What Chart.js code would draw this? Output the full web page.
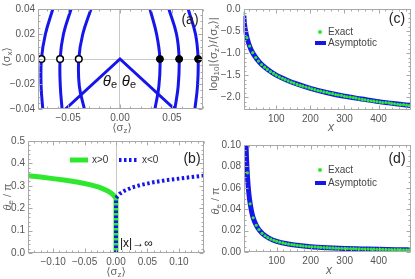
<!DOCTYPE html>
<html>
<head>
<meta charset="utf-8">
<script src="https://cdn.jsdelivr.net/npm/chart.js@4.4.1/dist/chart.umd.min.js"></script>
<style>
  html, body { margin: 0; padding: 0; background: #fff; }
  #wrap { position: relative; width: 415px; height: 279px; overflow: hidden; }
  #wrap canvas { position: absolute; left: 0; top: 0; }
</style>
</head>
<body>
<div id="wrap">
  <canvas id="panelA" width="415" height="279"></canvas>
  <canvas id="panelB" width="415" height="279"></canvas>
  <canvas id="panelC" width="415" height="279"></canvas>
  <canvas id="panelD" width="415" height="279"></canvas>
</div>
<script>
// (a) arcs in the <sz>,<sx> plane, read at these <sx> levels
const arcLevels     = [0.04, 0.0198, 0, -0.0216, -0.04];
const arcLeftOuter  = [-0.0647, -0.0719, -0.0757, -0.0760, -0.0744];
const arcLeftMid    = [-0.0471, -0.0545, -0.0577, -0.0575, -0.0558];
const arcLeftInner  = [-0.0279, -0.0359, -0.0397, -0.0392, -0.0343];
const arcRightInner = [0.0289, 0.0353, 0.0385, 0.0375, 0.0337];
const arcRightMid   = [0.0471, 0.0545, 0.0570, 0.0561, 0.0529];
const arcRightOuter = [0.0657, 0.0728, 0.0753, 0.0747, 0.0722];
const openDots   = [-0.0757, -0.0577, -0.0397];
const filledDots = [0.0385, 0.0570, 0.0753];
const wedgeZ = [-0.0525, 0, 0.0525];
const wedgeX = [-0.04, 0, -0.04];

// (b) theta_e / pi against <sz>
const greenZ     = [-0.14, -0.12, -0.10, -0.08, -0.06, -0.04, -0.026, -0.013, -0.006, -0.002, 0, 0];
const greenTheta = [0.345, 0.339, 0.332, 0.325, 0.316, 0.304, 0.293, 0.277, 0.264, 0.252, 0.243, 0];
const blueZ      = [0, 0, 0.002, 0.006, 0.013, 0.026, 0.04, 0.06, 0.08, 0.10, 0.12, 0.14];
const blueTheta  = [0, 0.243, 0.252, 0.264, 0.277, 0.293, 0.304, 0.316, 0.325, 0.332, 0.339, 0.345];

// (c), (d) exact points and asymptotic curves against x
const xExact = [5, 14, 22, 31, 40, 48, 57, 66, 74, 83, 92, 100, 109, 118, 126, 135, 144, 152, 161, 170,
  178, 187, 196, 204, 213, 222, 230, 239, 248, 256, 265, 274, 282, 291, 300, 308, 317, 326, 334, 343,
  352, 360, 369, 378, 386, 395, 404, 412, 421, 430, 438, 447, 456, 464, 473, 482, 490];
const cExact = [-0.10, -0.65, -0.84, -0.99, -1.10, -1.18, -1.26, -1.32, -1.37, -1.42, -1.46, -1.50,
  -1.54, -1.57, -1.60, -1.63, -1.66, -1.68, -1.71, -1.73, -1.75, -1.77, -1.79, -1.81, -1.83, -1.85,
  -1.86, -1.88, -1.89, -1.91, -1.92, -1.94, -1.95, -1.96, -1.98, -1.99, -2.00, -2.01, -2.02, -2.04,
  -2.05, -2.06, -2.07, -2.08, -2.09, -2.10, -2.11, -2.12, -2.12, -2.13, -2.14, -2.15, -2.16, -2.17,
  -2.17, -2.18, -2.19];
const dExact = [0.15, 0.074, 0.045, 0.032, 0.025, 0.021, 0.0175, 0.0152, 0.0135, 0.0120, 0.0109,
  0.0100, 0.0092, 0.0085, 0.0079, 0.0074, 0.0069, 0.0066, 0.0062, 0.0059, 0.0056, 0.0053, 0.0051,
  0.0049, 0.0047, 0.0045, 0.0043, 0.0042, 0.0040, 0.0039, 0.0038, 0.0036, 0.0035, 0.0034, 0.0033,
  0.0032, 0.0032, 0.0031, 0.0030, 0.0029, 0.0028, 0.0028, 0.0027, 0.0026, 0.0026, 0.0025, 0.0025,
  0.0024, 0.0024, 0.0023, 0.0023, 0.0022, 0.0022, 0.0022, 0.0021, 0.0021, 0.0020];
const xAsym = [5, 7, 10, 13, 16, 20, 25, 30, 40, 50, 60, 80, 100, 130, 160, 200, 250, 300, 350, 400, 450, 495];
const cAsym = [-0.15, -0.35, -0.50, -0.61, -0.70, -0.80, -0.90, -0.98, -1.10, -1.20, -1.28, -1.40,
  -1.50, -1.61, -1.70, -1.80, -1.90, -1.98, -2.04, -2.10, -2.15, -2.19];
const dAsym = [0.20, 0.143, 0.100, 0.077, 0.0625, 0.050, 0.040, 0.033, 0.025, 0.020, 0.0167, 0.0125,
  0.0100, 0.0077, 0.0063, 0.0050, 0.0040, 0.0033, 0.0029, 0.0025, 0.0022, 0.0020];

// tick values
const aTicksX = [-0.05, 0, 0.05];
const aTicksY = [-0.04, -0.02, 0, 0.02, 0.04];
const bTicksX = [-0.10, -0.05, 0, 0.05, 0.10];
const bTicksY = [0, 0.1, 0.2, 0.3, 0.4, 0.5];
const cdTicksX = [100, 200, 300, 400];
const cTicksY = [-2.0, -1.5, -1.0, -0.5, 0];
const dTicksY = [0, 0.02, 0.04, 0.06, 0.08, 0.10];

const BLUE = 'rgb(22,22,235)';
const GREEN = 'rgb(45,232,45)';
const FRAME = '#a8a8a8';
const FONT = "'Liberation Sans', 'DejaVu Sans', sans-serif";

const zip = (xs, ys) => xs.map((x, i) => ({ x: x, y: ys[i] }));
const fmt = (v, d) => (v < -1e-12 ? '\u2212' : '') + Math.abs(v).toFixed(d);

function axis(pos, min, max, ticks, digits, size, zeroLine) {
  return {
    type: 'linear', position: pos, min: min, max: max,
    afterBuildTicks: s => { s.ticks = ticks.map(v => ({ value: v })); },
    afterFit: s => { if (pos === 'left') s.width = size; else s.height = size; },
    ticks: {
      color: '#555', padding: 3, autoSkip: false, maxRotation: 0,
      font: { family: FONT, size: 10 },
      callback: v => fmt(v, digits)
    },
    grid: {
      drawTicks: false,
      color: c => (zeroLine && c.tick && Math.abs(c.tick.value) < 1e-9) ? '#c8c8c8' : 'rgba(0,0,0,0)'
    },
    border: { display: false }
  };
}

function opts(padding, x, y) {
  return {
    responsive: false, animation: false, events: [],
    layout: { padding: padding },
    plugins: { legend: { display: false }, tooltip: { enabled: false } },
    scales: { x: x, y: y }
  };
}

// text made of pieces: [text, size, dy, italic]
function rich(ctx, parts, x, y, o) {
  o = o || {};
  ctx.save();
  ctx.translate(x, y);
  if (o.rotate) ctx.rotate(o.rotate);
  ctx.fillStyle = o.color || '#666';
  ctx.textBaseline = 'middle';
  ctx.textAlign = 'left';
  const fonts = parts.map(p => (p[3] ? 'italic ' : '') + p[1] + 'px ' + FONT);
  let w = 0;
  parts.forEach((p, i) => { ctx.font = fonts[i]; w += ctx.measureText(p[0]).width; });
  let cx = o.align === 'left' ? 0 : -w / 2;
  parts.forEach((p, i) => {
    ctx.font = fonts[i];
    ctx.fillText(p[0], cx, p[2] || 0);
    cx += ctx.measureText(p[0]).width;
  });
  ctx.restore();
}

function tickList(ticks, n, min, max) {
  const sub = (ticks[1] - ticks[0]) / n, out = [];
  const k0 = Math.floor((min - ticks[0]) / sub) - 1, k1 = Math.ceil((max - ticks[0]) / sub) + 1;
  for (let k = k0; k <= k1; k++) {
    const v = ticks[0] + k * sub;
    if (v >= min - 1e-9 && v <= max + 1e-9) out.push({ v: v, major: ((k % n) + n) % n === 0 });
  }
  return out;
}

// frame, inward ticks and the extra text of each panel
function decor(xTicks, xn, yTicks, yn, draw) {
  return {
    id: 'decor',
    afterDraw(chart) {
      const ctx = chart.ctx, a = chart.chartArea, sx = chart.scales.x, sy = chart.scales.y;
      const L = Math.round(a.left) + 0.5, R = Math.round(a.right) - 0.5;
      const T = Math.round(a.top) + 0.5, B = Math.round(a.bottom) - 0.5;
      ctx.save();
      ctx.strokeStyle = FRAME;
      ctx.lineWidth = 1;
      ctx.strokeRect(L, T, R - L, B - T);
      ctx.beginPath();
      tickList(xTicks, xn, sx.min, sx.max).forEach(t => {
        const p = Math.round(sx.getPixelForValue(t.v)) + 0.5, len = t.major ? 4 : 2;
        ctx.moveTo(p, B); ctx.lineTo(p, B - len);
        ctx.moveTo(p, T); ctx.lineTo(p, T + len);
      });
      tickList(yTicks, yn, sy.min, sy.max).forEach(t => {
        const p = Math.round(sy.getPixelForValue(t.v)) + 0.5, len = t.major ? 4 : 2;
        ctx.moveTo(L, p); ctx.lineTo(L + len, p);
        ctx.moveTo(R, p); ctx.lineTo(R - len, p);
      });
      ctx.stroke();
      ctx.restore();
      draw(ctx);
    }
  };
}

function legendLine(ctx, x0, x1, y, color, width, dash) {
  ctx.save();
  ctx.strokeStyle = color;
  ctx.lineWidth = width;
  if (dash) ctx.setLineDash(dash);
  ctx.beginPath(); ctx.moveTo(x0, y); ctx.lineTo(x1, y); ctx.stroke();
  ctx.restore();
}
function legendDot(ctx, x, y, color) {
  ctx.save();
  ctx.fillStyle = color;
  ctx.beginPath(); ctx.arc(x, y, 2, 0, Math.PI * 2); ctx.fill();
  ctx.restore();
}

const arcStyle = { showLine: true, borderColor: BLUE, borderWidth: 3, pointRadius: 0, tension: 0.4 };

// ---- (a) ----
new Chart(document.getElementById('panelA'), {
  type: 'scatter',
  data: {
    datasets: [
      { data: openDots.map(z => ({ x: z, y: 0 })), pointRadius: 3.3, borderWidth: 1.5,
        borderColor: '#000', backgroundColor: '#fff' },
      { data: filledDots.map(z => ({ x: z, y: 0 })), pointRadius: 3.5, borderWidth: 1,
        borderColor: '#000', backgroundColor: '#000' },
      Object.assign({ data: zip(wedgeZ, wedgeX) }, arcStyle, { tension: 0 }),
      Object.assign({ data: zip(arcLeftOuter, arcLevels) }, arcStyle),
      Object.assign({ data: zip(arcLeftMid, arcLevels) }, arcStyle),
      Object.assign({ data: zip(arcLeftInner, arcLevels) }, arcStyle),
      Object.assign({ data: zip(arcRightInner, arcLevels) }, arcStyle),
      Object.assign({ data: zip(arcRightMid, arcLevels) }, arcStyle),
      Object.assign({ data: zip(arcRightOuter, arcLevels) }, arcStyle)
    ]
  },
  options: opts({ left: 0, top: 6, right: 212, bottom: 142 },
    axis('bottom', -0.079, 0.08, aTicksX, 2, 28, true),
    axis('left', -0.04, 0.04, aTicksY, 2, 38, true)),
  plugins: [decor(aTicksX, 5, aTicksY, 4, ctx => {
    rich(ctx, [['(a)', 14]], 190, 20, { color: '#222' });
    rich(ctx, [['\u03B8', 15, 0, true], ['e', 11, 3]], 110, 82, { color: '#111' });
    rich(ctx, [['\u03B8', 15, 0, true], ['e', 11, 3]], 129, 82, { color: '#111' });
    rich(ctx, [['\u27E8\u03C3', 11], ['z', 8, 3], ['\u27E9', 11]], 122, 128);
    rich(ctx, [['\u27E8\u03C3', 11], ['x', 8, 3], ['\u27E9', 11]], 7, 57, { rotate: -Math.PI / 2 });
  })]
});

// ---- (b) ----
new Chart(document.getElementById('panelB'), {
  type: 'scatter',
  data: {
    datasets: [
      { data: zip(blueZ, blueTheta), showLine: true, borderColor: BLUE, borderWidth: 4,
        borderDash: [2.5, 2.5], pointRadius: 0, tension: 0 },
      { data: zip(greenZ, greenTheta), showLine: true, borderColor: GREEN, borderWidth: 5,
        pointRadius: 0, tension: 0 }
    ]
  },
  options: opts({ left: 0, top: 141, right: 211, bottom: 6 },
    axis('bottom', -0.14, 0.14, bTicksX, 2, 20, true),
    axis('left', 0, 0.5, bTicksY, 1, 28, false)),
  plugins: [decor(bTicksX, 5, bTicksY, 5, ctx => {
    rich(ctx, [['(b)', 14]], 192, 159, { color: '#222' });
    legendLine(ctx, 70, 88, 160, GREEN, 5);
    rich(ctx, [['x>0', 10]], 92, 160, { align: 'left', color: '#333' });
    legendLine(ctx, 119, 138, 160, BLUE, 4, [2.5, 2.5]);
    rich(ctx, [['x<0', 10]], 142, 160, { align: 'left', color: '#333' });
    rich(ctx, [['|x|\u2192\u221E', 12]], 120, 243.5, { align: 'left', color: '#111' });
    rich(ctx, [['\u03B8', 11, 0, true], ['e', 8, 3], [' / \u03C0', 11]], 8, 197, { rotate: -Math.PI / 2 });
    rich(ctx, [['\u27E8\u03C3', 11], ['z', 8, 3], ['\u27E9', 11]], 116, 272);
  })]
});

// ---- (c) ----
new Chart(document.getElementById('panelC'), {
  type: 'scatter',
  data: {
    datasets: [
      { data: zip(xExact, cExact), pointRadius: 1.6, borderWidth: 0, backgroundColor: GREEN },
      { data: zip(xAsym, cAsym), showLine: true, borderColor: BLUE, borderWidth: 5,
        pointRadius: 0, cubicInterpolationMode: 'monotone' }
    ]
  },
  options: opts({ left: 213.5, top: 6, right: 1, bottom: 149 },
    axis('bottom', 4, 495, cdTicksX, 0, 20, false),
    axis('left', -2.29, 0, cTicksY, 1, 30, false)),
  plugins: [decor(cdTicksX, 5, cTicksY, 5, ctx => {
    rich(ctx, [['(c)', 14]], 397, 19, { color: '#222' });
    legendDot(ctx, 320, 32, GREEN);
    rich(ctx, [['Exact', 10]], 328, 32, { align: 'left', color: '#444' });
    legendLine(ctx, 315, 326, 43, BLUE, 4);
    rich(ctx, [['Asymptotic', 10]], 328, 43, { align: 'left', color: '#444' });
    rich(ctx, [['log', 11.5], ['10', 8, 3], ['|\u27E8\u03C3', 11.5], ['z', 8, 3], ['\u27E9/\u27E8\u03C3', 11.5], ['x', 8, 3], ['\u27E9|', 11.5]],
      214, 54, { rotate: -Math.PI / 2 });
    rich(ctx, [['x', 12, 0, true]], 331, 128);
  })]
});

// ---- (d) ----
new Chart(document.getElementById('panelD'), {
  type: 'scatter',
  data: {
    datasets: [
      { data: zip(xExact, dExact), pointRadius: 1.6, borderWidth: 0, backgroundColor: GREEN },
      { data: zip(xAsym, dAsym), showLine: true, borderColor: BLUE, borderWidth: 5,
        pointRadius: 0, cubicInterpolationMode: 'monotone' }
    ]
  },
  options: opts({ left: 210, top: 145, right: 1, bottom: 7 },
    axis('bottom', 4, 495, cdTicksX, 0, 20, false),
    axis('left', 0, 0.1, dTicksY, 2, 34, false)),
  plugins: [decor(cdTicksX, 5, dTicksY, 4, ctx => {
    rich(ctx, [['(d)', 14]], 397, 159, { color: '#222' });
    legendDot(ctx, 320, 170, GREEN);
    rich(ctx, [['Exact', 10]], 328, 170, { align: 'left', color: '#444' });
    legendLine(ctx, 315, 326, 183, BLUE, 4);
    rich(ctx, [['Asymptotic', 10]], 328, 183, { align: 'left', color: '#444' });
    rich(ctx, [['\u03B8', 11, 0, true], ['e', 8, 3], [' / \u03C0', 11]], 216, 201, { rotate: -Math.PI / 2 });
    rich(ctx, [['x', 12, 0, true]], 329, 271);
  })]
});
</script>
</body>
</html>
